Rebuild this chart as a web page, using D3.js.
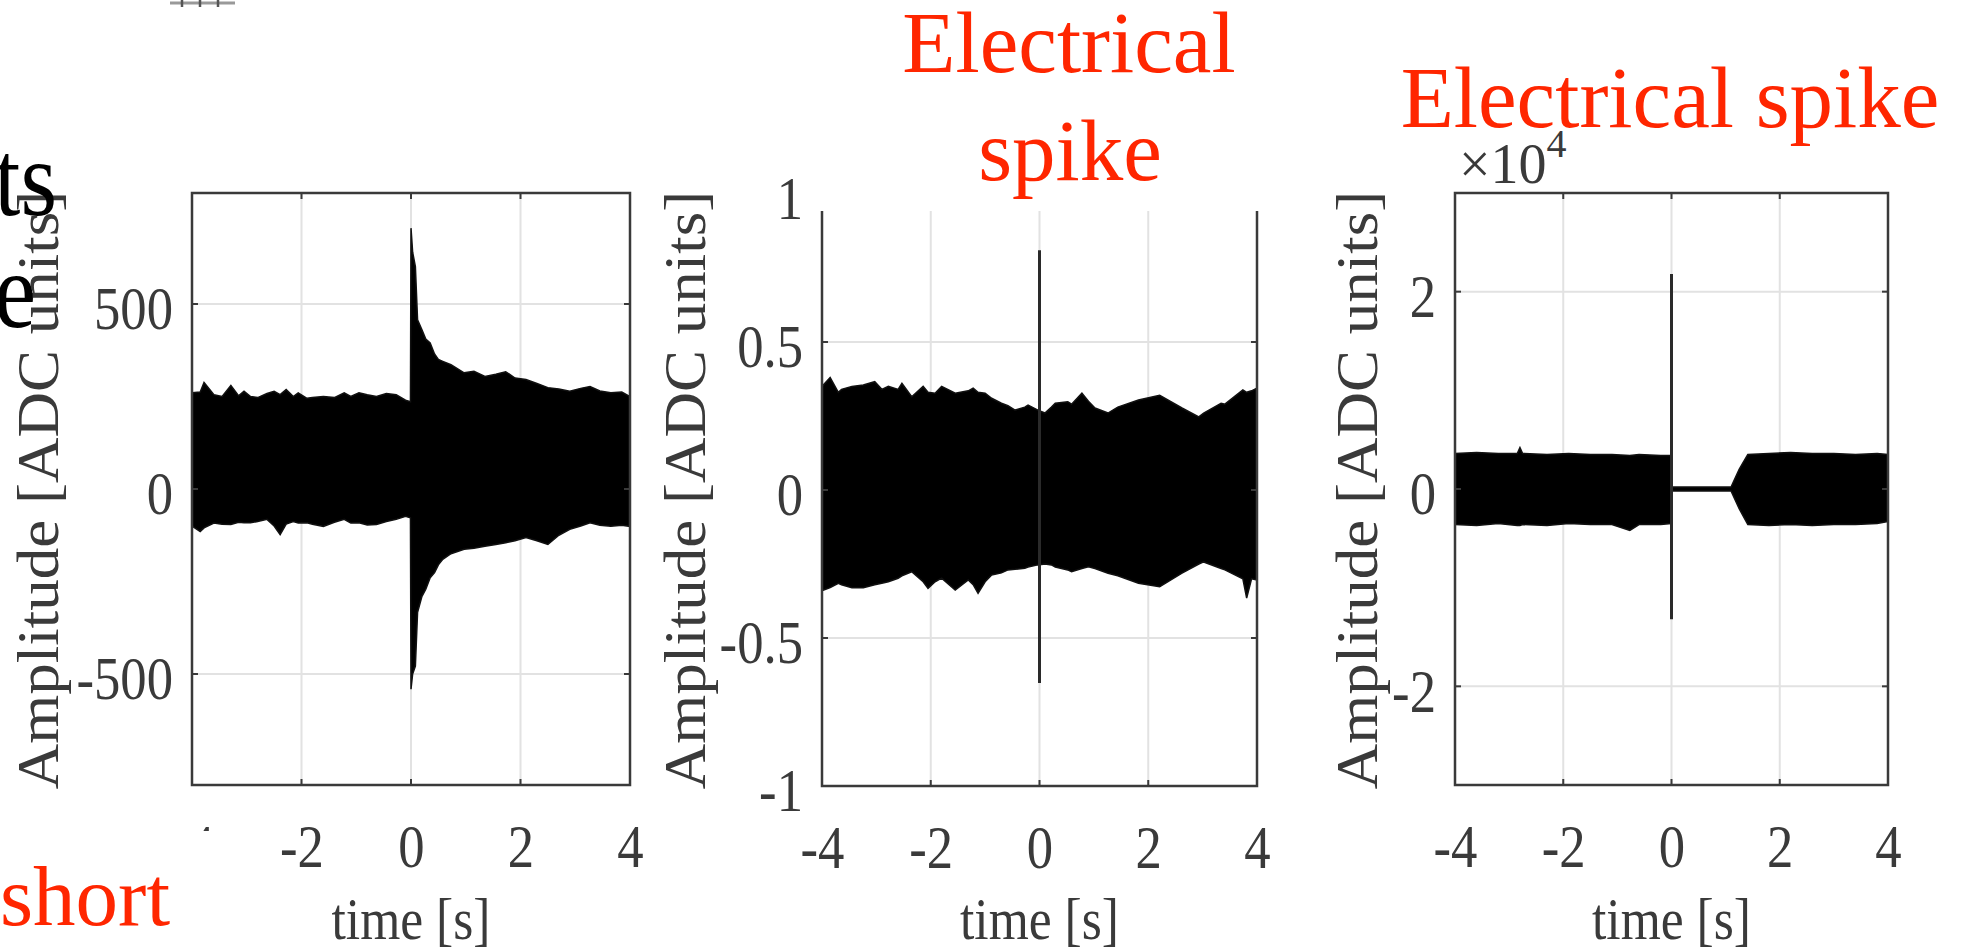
<!DOCTYPE html>
<html>
<head>
<meta charset="utf-8">
<script src="https://cdn.jsdelivr.net/npm/d3@7"></script>
<style>
  body { margin: 0; background: #fff; }
  svg { display: block; }
</style>
</head>
<body>
<div id="chart"></div>
<script>
// Signal envelopes (time in s)
const xTicks = [-4, -2, 0, 2, 4];

// panel 1 - ADC units
const p1Time  = [-4, -3.85, -3.78, -3.6, -3.45, -3.29, -3.15, -3.05, -2.93, -2.8, -2.63, -2.5, -2.39, -2.28, -2.15, -2.06, -1.9, -1.8, -1.6, -1.4, -1.22, -1.1, -0.95, -0.8, -0.63, -0.45, -0.27, -0.1, -0.01, 0, 0.03, 0.08, 0.12, 0.2, 0.27, 0.35, 0.43, 0.5, 0.58, 0.73, 0.97, 1.15, 1.35, 1.55, 1.73, 1.9, 2.1, 2.3, 2.5, 2.7, 2.9, 3.1, 3.27, 3.45, 3.65, 3.85, 4];
const p1Upper = [260, 262, 288, 255, 250, 280, 252, 264, 250, 247, 258, 264, 255, 269, 250, 260, 245, 247, 250, 247, 260, 250, 260, 255, 250, 258, 255, 240, 236, 705, 640, 601, 457, 430, 405, 395, 365, 350, 345, 336, 314, 318, 304, 310, 317, 300, 296, 285, 274, 270, 264, 272, 277, 265, 260, 262, 250];
const p1Lower = [-100, -115, -105, -92, -95, -96, -90, -91, -91, -88, -82, -100, -123, -95, -88, -92, -91, -95, -101, -90, -82, -92, -91, -97, -96, -88, -82, -74, -78, -541, -500, -479, -333, -290, -271, -240, -226, -205, -190, -175, -163, -160, -155, -150, -145, -140, -131, -140, -150, -125, -109, -100, -91, -98, -101, -98, -101];
const p1YTicks = [-500, 0, 500];

// panel 2 - electrical spike, normalised units
const p2Time  = [-4, -3.85, -3.7, -3.64, -3.45, -3.24, -3.03, -2.9, -2.78, -2.6, -2.53, -2.35, -2.14, -2.05, -1.92, -1.8, -1.55, -1.31, -1.22, -1.13, -1, -0.88, -0.7, -0.58, -0.45, -0.27, -0.21, -0.03, 0.1, 0.22, 0.29, 0.52, 0.59, 0.78, 0.9, 1.02, 1.26, 1.44, 1.82, 2.21, 2.62, 2.93, 3.02, 3.34, 3.41, 3.74, 3.81, 3.9, 4];
const p2Upper = [0.35, 0.38, 0.33, 0.34, 0.35, 0.355, 0.366, 0.34, 0.35, 0.34, 0.36, 0.315, 0.35, 0.33, 0.327, 0.35, 0.327, 0.335, 0.344, 0.33, 0.327, 0.31, 0.293, 0.285, 0.27, 0.28, 0.287, 0.27, 0.26, 0.28, 0.293, 0.298, 0.29, 0.327, 0.3, 0.277, 0.26, 0.28, 0.304, 0.32, 0.277, 0.247, 0.26, 0.293, 0.29, 0.338, 0.33, 0.335, 0.344];
const p2Lower = [-0.34, -0.33, -0.315, -0.32, -0.33, -0.33, -0.32, -0.315, -0.31, -0.298, -0.29, -0.276, -0.31, -0.332, -0.31, -0.298, -0.338, -0.304, -0.32, -0.349, -0.31, -0.287, -0.28, -0.27, -0.268, -0.264, -0.26, -0.253, -0.25, -0.253, -0.26, -0.27, -0.276, -0.265, -0.259, -0.265, -0.281, -0.29, -0.315, -0.327, -0.281, -0.25, -0.243, -0.265, -0.27, -0.3, -0.365, -0.3, -0.304];
const p2Spike = [0.81, -0.652];
const p2YTicks = [-1, -0.5, 0, 0.5, 1];

// panel 3 - electrical spike, x10^4 ADC units
const p3Time  = [-4, -3.6, -3.2, -2.85, -2.8, -2.75, -2.3, -1.9, -1.5, -1.1, -0.77, -0.6, -0.2, -0.01, 0.01, 0.5, 1.1, 1.25, 1.41, 1.8, 2.2, 2.6, 3, 3.4, 3.8, 4];
const p3Upper = [0.36, 0.37, 0.36, 0.36, 0.42, 0.36, 0.35, 0.36, 0.35, 0.35, 0.34, 0.35, 0.34, 0.34, 0.02, 0.02, 0.02, 0.2, 0.35, 0.36, 0.37, 0.36, 0.36, 0.35, 0.36, 0.35];
const p3Lower = [-0.36, -0.37, -0.35, -0.37, -0.37, -0.36, -0.37, -0.35, -0.36, -0.36, -0.42, -0.36, -0.36, -0.35, -0.02, -0.02, -0.02, -0.2, -0.36, -0.37, -0.36, -0.37, -0.36, -0.36, -0.35, -0.33];
const p3Spike = [2.18, -1.32];
const p3YTicks = [-2, 0, 2];

const W = 1972, H = 951;
const serif = "'Liberation Serif', 'Times New Roman', serif";
const red = "#ff2600";

const svg = d3.select("#chart").append("svg")
  .attr("width", W)
  .attr("height", H);

const drawPanel = (p) => {
  const x = d3.scaleLinear().domain([-4, 4]).range([p.left, p.right]);
  const y = d3.scaleLinear().domain(p.yDomain).range([p.bottom, p.top]);
  const g = svg.append("g");

  g.append("clipPath").attr("id", "clip" + p.id)
    .append("rect")
    .attr("x", p.left).attr("y", p.top)
    .attr("width", p.right - p.left).attr("height", p.bottom - p.top);

  // grid lines (under the data)
  g.selectAll("line.gx").data(xTicks.slice(1, -1)).enter().append("line")
    .attr("x1", d => x(d)).attr("x2", d => x(d))
    .attr("y1", p.top).attr("y2", p.bottom)
    .attr("stroke", "#e2e2e2").attr("stroke-width", 2);
  g.selectAll("line.gy").data(p.yTicks).enter().append("line")
    .attr("x1", p.left).attr("x2", p.right)
    .attr("y1", d => y(d)).attr("y2", d => y(d))
    .attr("stroke", "#e2e2e2").attr("stroke-width", 2);

  // dense noise shown as its envelope
  const rows = p.time.map((t, i) => ({ t: t, hi: p.upper[i], lo: p.lower[i] }));
  const band = d3.area()
    .x(d => x(d.t))
    .y0(d => y(d.lo))
    .y1(d => y(d.hi));
  g.append("path")
    .datum(rows)
    .attr("d", band)
    .attr("fill", "#000")
    .attr("stroke", "#111")
    .attr("stroke-width", 1.5)
    .attr("clip-path", "url(#clip" + p.id + ")");

  if (p.spike) {
    g.append("line")
      .attr("x1", x(0)).attr("x2", x(0))
      .attr("y1", y(p.spike[0])).attr("y2", y(p.spike[1]))
      .attr("stroke", "#2a2a2a").attr("stroke-width", 3);
  }

  // box + inward ticks
  g.append("rect")
    .attr("x", p.left).attr("y", p.top)
    .attr("width", p.right - p.left).attr("height", p.bottom - p.top)
    .attr("fill", "none").attr("stroke", "#3a3a3a").attr("stroke-width", 2.5);
  xTicks.forEach(d => {
    g.append("line").attr("x1", x(d)).attr("x2", x(d)).attr("y1", p.bottom).attr("y2", p.bottom - 6)
      .attr("stroke", "#3a3a3a").attr("stroke-width", 2);
    g.append("line").attr("x1", x(d)).attr("x2", x(d)).attr("y1", p.top).attr("y2", p.top + 6)
      .attr("stroke", "#3a3a3a").attr("stroke-width", 2);
  });
  p.yTicks.forEach(d => {
    g.append("line").attr("x1", p.left).attr("x2", p.left + 6).attr("y1", y(d)).attr("y2", y(d))
      .attr("stroke", "#3a3a3a").attr("stroke-width", 2);
    g.append("line").attr("x1", p.right).attr("x2", p.right - 6).attr("y1", y(d)).attr("y2", y(d))
      .attr("stroke", "#3a3a3a").attr("stroke-width", 2);
  });

  // tick labels
  const sx = 0.85;
  const gx = g.append("g")
    .attr("transform", "translate(0," + p.bottom + ")")
    .call(d3.axisBottom(x).tickValues(xTicks).tickSize(0).tickFormat(d => String(d)));
  gx.select(".domain").remove();
  gx.selectAll("text")
    .attr("y", 82).attr("dy", null)
    .attr("transform", "scale(" + sx + ",1)")
    .attr("font-family", serif).attr("font-size", 62)
    .attr("fill", "#3a3a3a");

  const gy = g.append("g")
    .attr("transform", "translate(" + p.left + ",0)")
    .call(d3.axisLeft(y).tickValues(p.yTicks).tickSize(0).tickFormat(d => String(d)));
  gy.select(".domain").remove();
  gy.selectAll("text")
    .attr("x", -19 / sx).attr("dy", "0.4em")
    .attr("transform", "scale(" + sx + ",1)")
    .attr("font-family", serif).attr("font-size", 62)
    .attr("fill", "#3a3a3a");

  // axis titles
  g.append("text")
    .attr("transform", "translate(" + (p.left + p.right) / 2 + ",939) scale(0.86,1)")
    .attr("text-anchor", "middle")
    .attr("font-family", serif).attr("font-size", 60)
    .attr("fill", "#3a3a3a")
    .text("time [s]");
  g.append("text")
    .attr("transform", "translate(" + p.yLabelX + ",490) rotate(-90) scale(1,0.93)")
    .attr("text-anchor", "middle")
    .attr("font-family", serif).attr("font-size", 63)
    .attr("fill", "#3a3a3a")
    .text("Amplitude [ADC units]");

  return { x: x, y: y };
};

drawPanel({ id: 1, left: 192, right: 630, top: 193, bottom: 785, yDomain: [-800, 800],
  time: p1Time, upper: p1Upper, lower: p1Lower, yTicks: p1YTicks, yLabelX: 58 });
drawPanel({ id: 2, left: 822, right: 1257, top: 194, bottom: 786, yDomain: [-1, 1],
  time: p2Time, upper: p2Upper, lower: p2Lower, spike: p2Spike, yTicks: p2YTicks, yLabelX: 705 });
drawPanel({ id: 3, left: 1455, right: 1888, top: 193, bottom: 785, yDomain: [-3, 3],
  time: p3Time, upper: p3Upper, lower: p3Lower, spike: p3Spike, yTicks: p3YTicks, yLabelX: 1377 });

// x10^4 exponent label
const expo = svg.append("text")
  .attr("x", 1459).attr("y", 183)
  .attr("font-family", serif).attr("font-size", 56)
  .attr("fill", "#3a3a3a");
expo.append("tspan").text("\u00d710");
expo.append("tspan").attr("dy", -26).attr("font-size", 40).text("4");

// fragment of a neighbouring figure at the very top
svg.append("line").attr("x1", 170).attr("x2", 235).attr("y1", 3).attr("y2", 3)
  .attr("stroke", "#999").attr("stroke-width", 3);
[182, 200, 218].forEach(d => {
  svg.append("line").attr("x1", d).attr("x2", d).attr("y1", 0).attr("y2", 7)
    .attr("stroke", "#555").attr("stroke-width", 2.5);
});

// cut-off black text on the left edge
svg.append("text")
  .attr("transform", "translate(57,215) scale(0.87,1)")
  .attr("text-anchor", "end")
  .attr("font-family", serif).attr("font-size", 108)
  .attr("fill", "#000").text("ts");
svg.append("text")
  .attr("transform", "translate(36,327) scale(0.87,1)")
  .attr("text-anchor", "end")
  .attr("font-family", serif).attr("font-size", 108)
  .attr("fill", "#000").text("e");

// annotation boxes (white background) and red notes
svg.append("rect").attr("x", 0).attr("y", 831).attr("width", 214).attr("height", 120).attr("fill", "#fff");
svg.append("text")
  .attr("x", 0).attr("y", 925)
  .attr("font-family", serif).attr("font-size", 85)
  .attr("fill", red).text("short");

svg.append("rect").attr("x", 806).attr("y", 0).attr("width", 470).attr("height", 211).attr("fill", "#fff");
svg.append("text")
  .attr("x", 1069).attr("y", 72).attr("text-anchor", "middle")
  .attr("font-family", serif).attr("font-size", 87)
  .attr("fill", red).text("Electrical");
svg.append("text")
  .attr("x", 1070).attr("y", 180).attr("text-anchor", "middle")
  .attr("font-family", serif).attr("font-size", 87)
  .attr("fill", red).text("spike");

svg.append("text")
  .attr("x", 1670).attr("y", 127).attr("text-anchor", "middle")
  .attr("font-family", serif).attr("font-size", 87)
  .attr("fill", red).text("Electrical spike");
</script>
</body>
</html>
